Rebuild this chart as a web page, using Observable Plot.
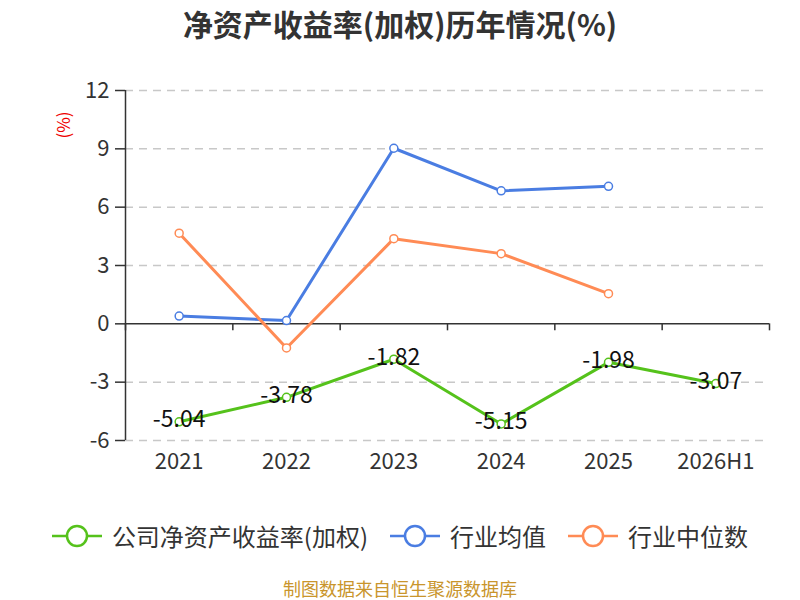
<!DOCTYPE html>
<html><head><meta charset="utf-8">
<script src="https://cdn.jsdelivr.net/npm/d3@7"></script>
<script src="https://cdn.jsdelivr.net/npm/@observablehq/plot@0.6"></script>
<style>
body{margin:0;background:#fff;font-family:"Noto Sans CJK SC","Noto Sans",sans-serif;}
#wrap{position:relative;width:800px;height:600px;}
#title{position:absolute;top:0;left:0;width:800px;text-align:center;font-size:30px;font-weight:bold;color:#333;line-height:46px;}
#chart{position:absolute;top:0;left:0;}
#ylab{position:absolute;left:63px;top:125px;transform:translate(-50%,-50%) rotate(-90deg);color:#e00;font-size:17px;white-space:nowrap;line-height:20px;}
#legend{position:absolute;top:518px;left:0;width:800px;display:flex;justify-content:center;align-items:center;color:#333;font-size:24px;line-height:36px;}
.item{display:flex;align-items:center;margin:0 11px;}
.item svg{margin-right:10px;}
#caption{position:absolute;top:578px;left:0;width:800px;text-align:center;font-size:18px;color:#c9952c;line-height:20px;}
</style></head>
<body>
<div id="wrap">
  <div id="chart"></div>
  <div id="title">净资产收益率(加权)历年情况(%)</div>
  <div id="ylab">(%)</div>
  <div id="legend"></div>
  <div id="caption">制图数据来自恒生聚源数据库</div>
</div>
<script>
const years = ["2021", "2022", "2023", "2024", "2025", "2026H1"];
const company = [-5.04, -3.78, -1.82, -5.15, -1.98, -3.07];
const industryAvg = [0.40, 0.17, 9.03, 6.84, 7.07, null];
const industryMedian = [4.66, -1.24, 4.38, 3.61, 1.55, null];
const yTicks = [-6, -3, 0, 3, 6, 9, 12];
const seriesNames = ["公司净资产收益率(加权)", "行业均值", "行业中位数"];
const colors = ["#55c21b", "#4a7de2", "#ff8b55"];

const seriesValues = [company, industryAvg, industryMedian];
const rows = [];
seriesValues.forEach((vals, s) => vals.forEach((v, i) => {
  if (v != null) rows.push({i, year: years[i], value: v, series: seriesNames[s]});
}));
const boundaries = d3.range(years.length + 1).map(k => k - 0.5);
const companyRows = rows.filter(d => d.series === seriesNames[0]);

const font = '"Noto Sans CJK SC","Noto Sans",sans-serif';
const chart = Plot.plot({
  width: 800, height: 490,
  marginTop: 90, marginLeft: 125, marginRight: 31, marginBottom: 50,
  x: {type: "linear", domain: [-0.5, years.length - 0.5], label: null},
  y: {domain: [-6, 12], label: null},
  color: {domain: seriesNames, range: colors},
  style: {fontFamily: font, color: "#333", background: "transparent", overflow: "visible"},
  marks: [
    Plot.gridY(yTicks.filter(t => t !== 0), {stroke: "#c8c8c8", strokeOpacity: 1, strokeWidth: 1.5, strokeDasharray: "8,6"}),
    Plot.axisY(yTicks, {tickSize: 10, tickPadding: 6, fontSize: 22, stroke: "#333", strokeWidth: 1.5, fill: "#333", label: null, tickFormat: d => String(d)}),
    Plot.axisX(d3.range(years.length), {tickSize: 0, tickPadding: 13, fontSize: 22, fill: "#333", label: null, tickFormat: i => years[i]}),
    Plot.ruleX([-0.5], {stroke: "#333", strokeWidth: 1.5}),
    Plot.ruleY([0], {stroke: "#333", strokeWidth: 1.5}),
    Plot.ruleX(boundaries, {x: d => d, y1: 0, y2: 0, insetBottom: -7, stroke: "#333", strokeWidth: 1.5}),
    Plot.line(rows, {x: "i", y: "value", z: "series", stroke: "series", strokeWidth: 3}),
    Plot.dot(rows, {x: "i", y: "value", stroke: "series", fill: "white", r: 4, strokeWidth: 1.5}),
    Plot.text(companyRows, {x: "i", y: "value", text: d => d.value.toFixed(2), fontSize: 23, fill: "#111", dy: -2})
  ]
});
document.getElementById("chart").appendChild(chart);

const legend = document.getElementById("legend");
seriesNames.forEach((name, s) => {
  const item = document.createElement("div");
  item.className = "item";
  item.innerHTML = `<svg width="50" height="24"><line x1="0" y1="12" x2="50" y2="12" stroke="${colors[s]}" stroke-width="2.5"/><circle cx="25" cy="12" r="10" fill="white" stroke="${colors[s]}" stroke-width="2.5"/></svg><span>${name}</span>`;
  legend.appendChild(item);
});
</script>
</body></html>
